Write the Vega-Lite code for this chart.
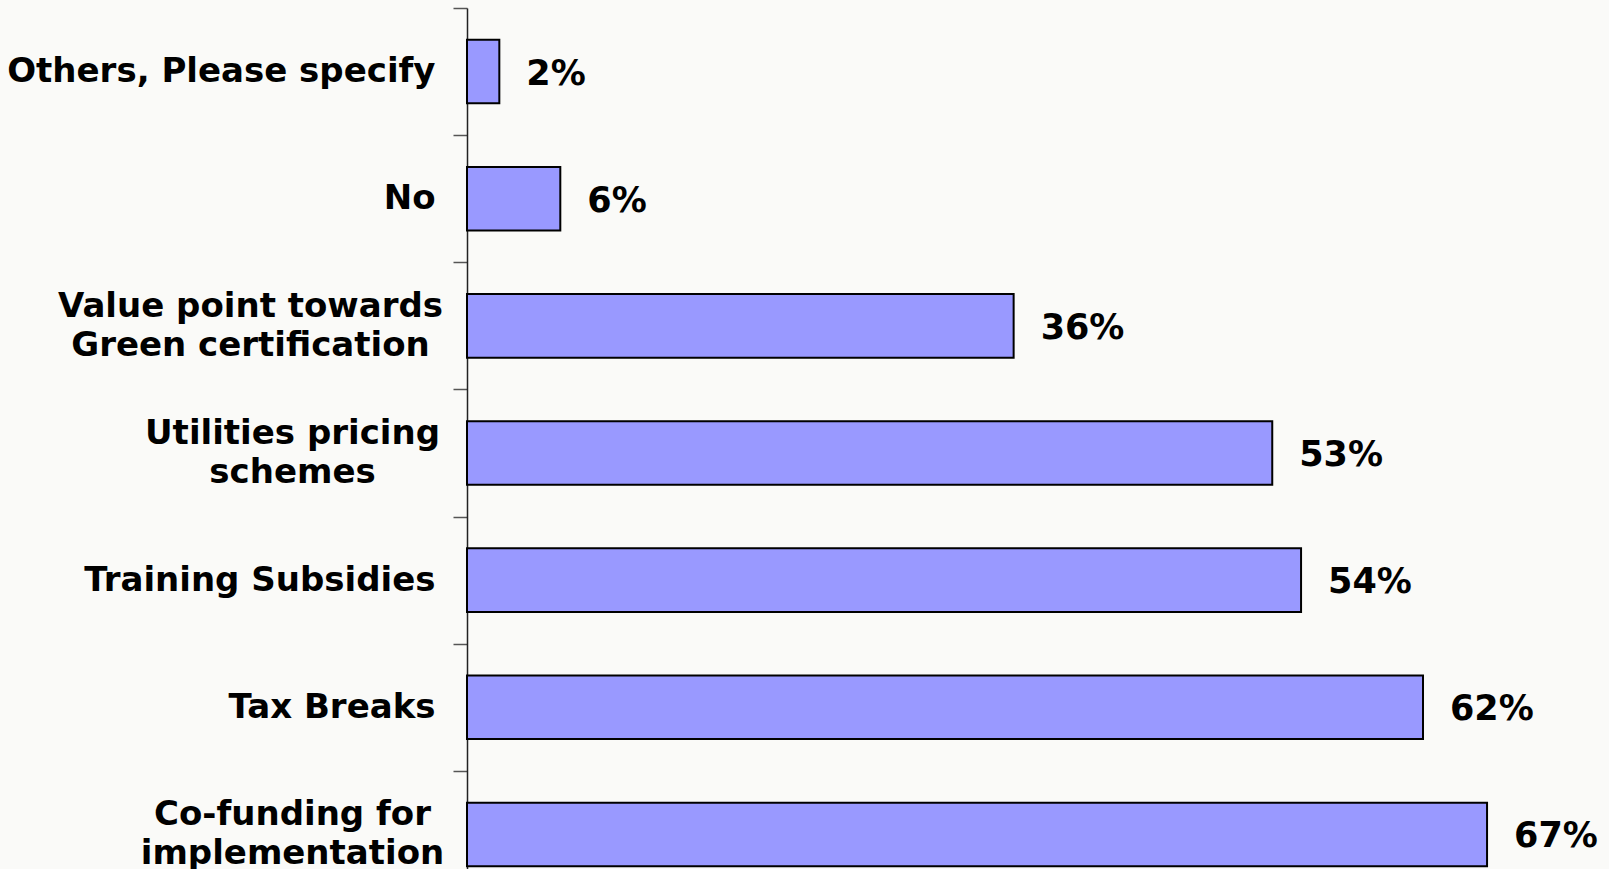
{
  "$schema": "https://vega.github.io/schema/vega-lite/v6.json",
  "width": 1142,
  "height": 869,
  "autosize": {"type": "none"},
  "padding": {"left": 467, "top": 0, "right": 0, "bottom": 0},
  "background": "#fafaf8",
  "config": {"view": {"stroke": null}},
  "data": {
    "values": [
      {"option": "Others, Please specify", "share": 0.0211},
      {"option": "No", "share": 0.0609},
      {"option": "Value point towards\nGreen certification", "share": 0.3568},
      {"option": "Utilities pricing\nschemes", "share": 0.5256},
      {"option": "Training Subsidies", "share": 0.5444},
      {"option": "Tax Breaks", "share": 0.6240},
      {"option": "Co-funding for\nimplementation", "share": 0.6658}
    ]
  },
  "encoding": {
    "y": {
      "field": "option",
      "type": "nominal",
      "sort": null,
      "scale": {"range": [8, 898], "paddingInner": 0.5, "paddingOuter": 0.25},
      "axis": {
        "title": null,
        "labelExpr": "split(datum.label, '\\n')",
        "labelFont": "DejaVu Sans",
        "labelFontWeight": "bold",
        "labelFontSize": 34,
        "labelColor": "black",
        "labelLineHeight": 39,
        "labelLimit": 0,
        "labelBaseline": "middle",
        "labelAlign": {"condition": {"test": "indexof(datum.value, '\\n') >= 0", "value": "center"}, "value": "right"},
        "labelPadding": {"expr": "indexof(datum.value, 'Value') == 0 ? 203 : (indexof(datum.value, '\\n') >= 0 ? 161 : 18)"},
        "labelOffset": {"condition": {"test": "indexof(datum.value, '\\n') >= 0", "value": 44.07}, "value": 63.57},
        "tickSize": 14,
        "tickColor": "#555555",
        "tickWidth": 1.5,
        "domainColor": "#222222",
        "domainWidth": 1.5,
        "bandPosition": 0.5,
        "tickOffset": -63.57,
        "grid": false
      }
    },
    "x": {
      "field": "share",
      "type": "quantitative",
      "scale": {"domain": [0, 0.7454]},
      "axis": null
    }
  },
  "layer": [
    {"mark": {"type": "bar", "fill": "#9999ff", "stroke": "black", "strokeWidth": 2}},
    {
      "mark": {"type": "text", "align": "left", "baseline": "middle", "dx": 27, "dy": 2, "font": "DejaVu Sans", "fontWeight": "bold", "fontSize": 35, "color": "black"},
      "encoding": {"text": {"field": "share", "format": ".0%"}}
    }
  ]
}
